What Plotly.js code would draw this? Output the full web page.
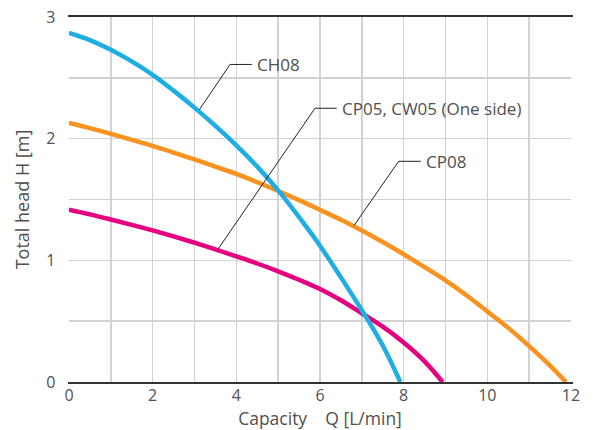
<!DOCTYPE html>
<html>
<head>
<meta charset="utf-8">
<script src="https://cdn.plot.ly/plotly-3.0.1.min.js"></script>
<style>html,body{margin:0;padding:0;background:#fff;}#chart{width:593px;height:430px;}</style>
</head>
<body>
<div id="chart"></div>
<script>
// Data
var seriesNames = ["CH08", "CP08", "CP05, CW05 (One side)"];
var ch08Q = [0, 0.5, 1, 1.5, 2, 2.5, 3, 3.5, 4, 4.5, 5, 5.5, 6, 6.5, 7, 7.5, 7.92];
var ch08H = [2.87, 2.81, 2.73, 2.635, 2.525, 2.395, 2.255, 2.105, 1.945, 1.77, 1.575, 1.355, 1.12, 0.86, 0.59, 0.30, 0];
var cp08Q = [0, 0.5, 1, 1.5, 2, 2.5, 3, 3.5, 4, 4.5, 5, 5.5, 6, 6.5, 7, 7.5, 8, 8.5, 9, 9.5, 10, 10.5, 11, 11.5, 11.88];
var cp08H = [2.13, 2.087, 2.04, 1.99, 1.94, 1.886, 1.83, 1.77, 1.71, 1.642, 1.57, 1.495, 1.415, 1.333, 1.245, 1.15, 1.05, 0.944, 0.835, 0.713, 0.58, 0.445, 0.295, 0.135, 0];
var cp05Q = [0, 0.5, 1, 1.5, 2, 2.5, 3, 3.5, 4, 4.5, 5, 5.5, 6, 6.5, 7, 7.5, 8, 8.5, 8.93];
var cp05H = [1.416, 1.378, 1.336, 1.292, 1.246, 1.197, 1.145, 1.09, 1.033, 0.974, 0.91, 0.84, 0.765, 0.672, 0.565, 0.455, 0.325, 0.17, 0];
var xTickVals = [0, 2, 4, 6, 8, 10, 12];
var yTickVals = [0, 1, 2, 3];

// Label leader lines (curve point -> elbow -> end of horizontal)
var leaders = [
  {pts: [[3.12, 2.24], [3.85, 2.61], [4.37, 2.61]], label: seriesNames[0]},
  {pts: [[3.57, 1.096], [5.88, 2.25], [6.40, 2.25]], label: seriesNames[2]},
  {pts: [[6.815, 1.287], [7.88, 1.814], [8.41, 1.814]], label: seriesNames[1]}
];

var FONT = "'Open Sans', 'Noto Sans', sans-serif";
var TXT = "#505050";

var traces = [
  {x: cp05Q, y: cp05H, name: seriesNames[2], mode: "lines",
   line: {color: "#e5007f", width: 4.5, shape: "spline", smoothing: 1}},
  {x: cp08Q, y: cp08H, name: seriesNames[1], mode: "lines",
   line: {color: "#f7931e", width: 4.5, shape: "spline", smoothing: 1}},
  {x: ch08Q, y: ch08H, name: seriesNames[0], mode: "lines",
   line: {color: "#1eaee3", width: 4.5, shape: "spline", smoothing: 1}}
];

var shapes = leaders.map(function (l) {
  var p = l.pts;
  return {type: "path", xref: "x", yref: "y",
    path: "M" + p[0][0] + "," + p[0][1] + " L" + p[1][0] + "," + p[1][1] + " L" + p[2][0] + "," + p[2][1],
    line: {color: "#222", width: 1}};
});
var annotations = leaders.map(function (l) {
  var e = l.pts[2];
  return {x: e[0], y: e[1], xref: "x", yref: "y", text: l.label, showarrow: false,
    xanchor: "left", yanchor: "middle", xshift: 3,
    font: {family: FONT, size: 17, color: TXT}};
});

var layout = {
  width: 593, height: 430,
  margin: {l: 69, r: 22, t: 17, b: 48},
  paper_bgcolor: "#fff", plot_bgcolor: "#fff",
  showlegend: false,
  font: {family: FONT, size: 17, color: TXT},
  xaxis: {
    range: [0, 12], tickvals: xTickVals, ticks: "", ticklabelstandoff: -2,
    showgrid: true, gridcolor: "#d2d2d2", gridwidth: 1.5,
    minor: {dtick: 1, showgrid: true, gridcolor: "#d2d2d2", gridwidth: 1.5},
    zeroline: false, showline: true, mirror: true, linecolor: "#333", linewidth: 2,
    tickfont: {family: FONT, size: 16, color: TXT},
    title: {text: "Capacity    Q [L/min]", standoff: 16, font: {family: FONT, size: 17.5, color: TXT}},
    automargin: false, fixedrange: true
  },
  yaxis: {
    range: [0, 3], tickvals: yTickVals, ticks: "", ticklabelstandoff: 9,
    showgrid: true, gridcolor: "#d2d2d2", gridwidth: 1.5,
    minor: {dtick: 0.5, showgrid: true, gridcolor: "#d2d2d2", gridwidth: 1.5},
    zeroline: false, showline: true, mirror: true, linecolor: "#ffffff", linewidth: 1.5,
    tickfont: {family: FONT, size: 16, color: TXT},
    title: {text: "Total head H [m]", standoff: 12, font: {family: FONT, size: 18, color: TXT}},
    automargin: false, fixedrange: true
  },
  shapes: shapes,
  annotations: annotations
};

Plotly.newPlot("chart", traces, layout, {displayModeBar: false, staticPlot: true});
</script>
</body>
</html>
